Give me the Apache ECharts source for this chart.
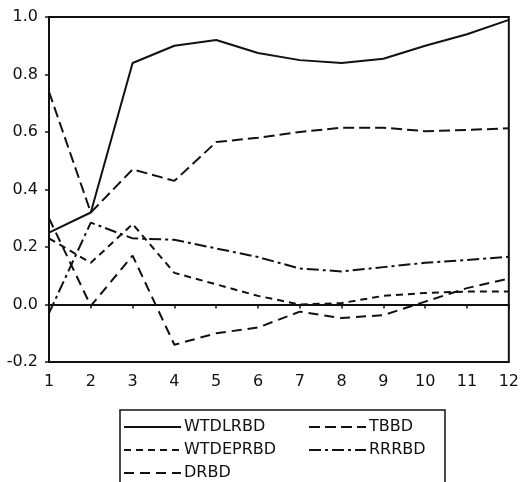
<!DOCTYPE html>
<html><head><meta charset="utf-8">
<script src="https://cdn.jsdelivr.net/npm/echarts@6/dist/echarts.min.js"></script>
<style>html,body{margin:0;padding:0;background:#fff}#c{width:522px;height:482px}</style>
</head><body><div id="c"></div>
<script>
const periods = [1,2,3,4,5,6,7,8,9,10,11,12];
const yTicks = [-0.2,0.0,0.2,0.4,0.6,0.8,1.0];
const WTDLRBD  = [0.25,0.32,0.84,0.90,0.92,0.875,0.85,0.84,0.855,0.90,0.94,0.99];
const TBBD     = [0.74,0.32,0.47,0.43,0.565,0.58,0.60,0.615,0.615,0.603,0.607,0.613];
const WTDEPRBD = [0.23,0.145,0.28,0.11,0.07,0.03,0.0,0.005,0.03,0.04,0.045,0.045];
const RRRBD    = [-0.03,0.285,0.23,0.225,0.195,0.165,0.125,0.115,0.13,0.145,0.155,0.166];
const DRBD     = [0.30,-0.005,0.17,-0.14,-0.10,-0.08,-0.025,-0.047,-0.037,0.01,0.057,0.09];

const pairs = a => a.map((v,i)=>[periods[i], v]);
const ink = '#111';
function mk(name, data, dash, extra) {
  return Object.assign({
    name, type:'line', data: pairs(data), symbol:'none', silent:true,
    lineStyle:{color:ink, width:2, type:dash},
    itemStyle:{color:ink}
  }, extra||{});
}
const legendBase = {orient:'vertical', top:419, height:100, padding:0,
  itemWidth:57, itemHeight:14, itemGap:7, itemStyle:{opacity:0},
  textStyle:{color:ink, fontSize:16, fontFamily:'DejaVu Sans', padding:[0,0,0,-2]}};
const chart = echarts.init(document.getElementById('c'), null, {renderer:'canvas'});
chart.setOption({
  animation:false,
  backgroundColor:'#fff',
  grid:{left:49, right:12, top:17, bottom:120, show:true, borderColor:ink, borderWidth:2, backgroundColor:'transparent'},
  xAxis:{type:'value', min:1, max:12, interval:1,
    axisLine:{lineStyle:{color:ink, width:2}},
    axisTick:{show:true, length:4, lineStyle:{color:ink, width:1.5}},
    axisLabel:{color:ink, fontSize:16, fontFamily:'DejaVu Sans', margin:12},
    splitLine:{show:false}},
  yAxis:{type:'value', min:-0.2, max:1.0, interval:0.2,
    axisLine:{show:true, lineStyle:{color:ink, width:2}},
    axisTick:{show:true, length:4, lineStyle:{color:ink, width:1.5}},
    axisLabel:{color:ink, fontSize:16, fontFamily:'DejaVu Sans', margin:11,
      formatter: v => (Math.abs(v)<1e-9 ? 0 : v).toFixed(1)},
    splitLine:{show:false}},
  legend:[
    Object.assign({}, legendBase, {data:['WTDLRBD','WTDEPRBD','DRBD'], left:123}),
    Object.assign({}, legendBase, {data:['TBBD','RRRBD'], left:308})
  ],
  graphic:[{type:'rect', shape:{x:120, y:410, width:325, height:80},
    style:{fill:'none', stroke:ink, lineWidth:1.5}, silent:true}],
  series:[
    mk('WTDLRBD', WTDLRBD, 'solid', {markLine:{silent:true, symbol:'none', label:{show:false},
      lineStyle:{color:ink, width:1.5, type:'solid'}, data:[{yAxis:0}]}}),
    mk('TBBD', TBBD, [11,5]),
    mk('WTDEPRBD', WTDEPRBD, [7,5]),
    mk('RRRBD', RRRBD, [12,4,3,4]),
    mk('DRBD', DRBD, [10,6])
  ]
});
</script></body></html>
